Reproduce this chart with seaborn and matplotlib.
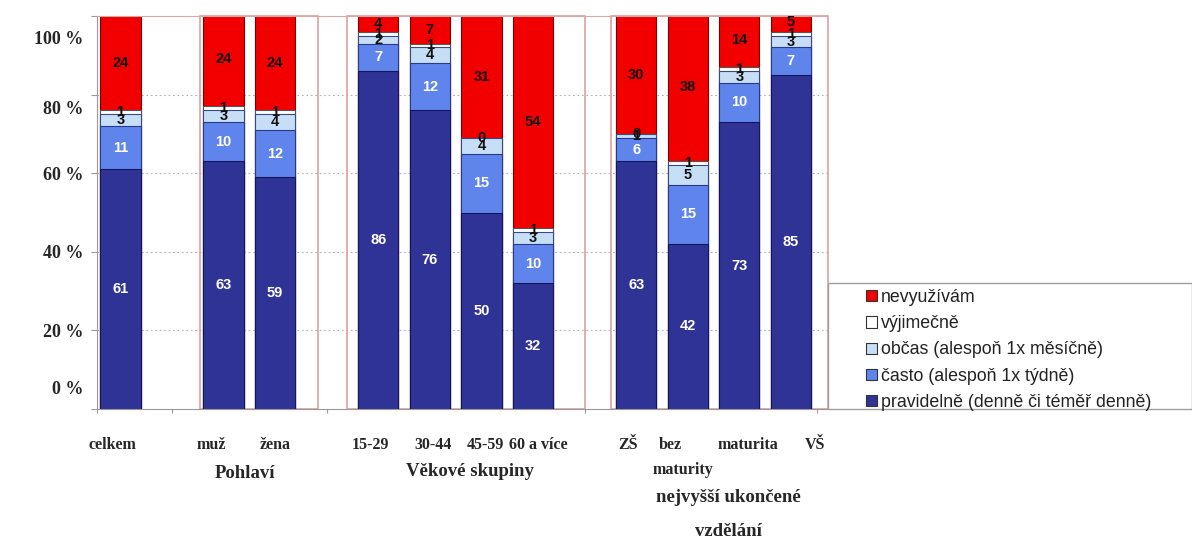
import numpy as np
import matplotlib
matplotlib.use('Agg')
import matplotlib.pyplot as plt
import matplotlib.transforms as mtransforms
from matplotlib.patches import Patch, Rectangle
import seaborn as sns

categories = ['celkem', 'muž', 'žena', '15-29', '30-44', '45-59', '60 a více',
              'ZŠ', 'bez', 'maturita', 'VŠ']
slots = [0, 2, 3, 5, 6, 7, 8, 10, 11, 12, 13]

pravidelne = [61, 63, 59, 86, 76, 50, 32, 63, 42, 73, 85]
casto = [11, 10, 12, 7, 12, 15, 10, 6, 15, 10, 7]
obcas = [3, 3, 4, 2, 4, 4, 3, 1, 5, 3, 3]
vyjimecne = [1, 1, 1, 1, 1, 0, 1, 0, 1, 1, 1]
nevyuzivam = [24, 24, 24, 4, 7, 31, 54, 30, 38, 14, 5]

series_names = ['pravidelně (denně či téměř denně)', 'často (alespoň 1x týdně)',
                'občas (alespoň 1x měsíčně)', 'výjimečně', 'nevyužívám']
series = [pravidelne, casto, obcas, vyjimecne, nevyuzivam]
colors = ['#2f3396', '#5f85ec', '#c6def6', '#ffffff', '#f20000']
edge_colors = ['#15155e', '#2a3a8a', '#3a4a80', '#555555', '#7a0000']
text_colors = ['white', 'white', '#111111', '#111111', '#111111']

group_titles = ['Pohlaví', 'Věkové skupiny', 'nejvyšší ukončené', 'vzdělání']
y_ticks = [0, 20, 40, 60, 80, 100]

sns.set_style('white')
fig = plt.figure(figsize=(11.92, 5.41), dpi=100)
ax = fig.add_axes([97 / 1192, 1 - 409 / 541, (828 - 97) / 1192, (409 - 16) / 541])

cum = np.cumsum(np.array(series), axis=0)
# stacked bars: draw from the tallest cumulative layer down
for i in range(len(series) - 1, -1, -1):
    sns.barplot(x=slots, y=cum[i], native_scale=True, width=0.78, color=colors[i],
                edgecolor=edge_colors[i], linewidth=0.8, errorbar=None, saturation=1, ax=ax)

# value labels
for i, vals in enumerate(series):
    bottoms = cum[i] - np.array(vals)
    for xs, b, v in zip(slots, bottoms, vals):
        ax.text(xs, b + v / 2, str(v), ha='center', va='center', fontsize=10.5,
                color=text_colors[i], family='Liberation Sans', fontweight='bold', zorder=5)

x0 = -0.455
x1 = 13.72
ax.set_xlim(x0, x1)
ax.set_ylim(0, 100)
ax.set_xlabel('')
ax.set_ylabel('')

# dotted grid
for yv in [20, 40, 60, 80]:
    ax.axhline(yv, color='#b0b0b0', linestyle=(0, (1.5, 2.5)), linewidth=0.8, zorder=0)

# group frames
for a, b in [(1.54, 3.83), (4.39, 9.0), (9.52, 13.72)]:
    ax.add_patch(Rectangle((a, 0), b - a, 100, fill=False, edgecolor='#e2a0a0',
                           linewidth=1.2, zorder=0.5, clip_on=False))

ax.spines['right'].set_visible(False)
ax.spines['top'].set_color('#d8a8a8')
ax.spines['left'].set_color('#999999')
ax.spines['bottom'].set_color('#999999')

ax.set_yticks(y_ticks)
ax.set_yticklabels([f'{t} %' for t in y_ticks], family='Liberation Serif',
                   fontweight='bold', fontsize=13)
ax.tick_params(axis='y', length=4, color='#999999', pad=6, left=True)
shifts = {100: -21, 80: -13, 0: 21}
for t, lab in zip(y_ticks, ax.get_yticklabels()):
    if t in shifts:
        lab.set_transform(lab.get_transform() +
                          mtransforms.ScaledTranslation(0, shifts[t] / 100, fig.dpi_scale_trans))
ax.set_xticks([-0.45, 1.0, 4.0, 9.0, 13.5])
ax.set_xticklabels([])
ax.tick_params(axis='x', length=3, color='#999999', bottom=True)

# category labels
label_px = [112, 211, 275, 370, 433, 485, 538, 628, 670, 748, 815]
for name, px in zip(categories, label_px):
    fig.text(px / 1192, 1 - 445 / 541, name, ha='center', va='center', family='Liberation Serif',
             fontweight='bold', fontsize=11.5)
fig.text(683 / 1192, 1 - 470 / 541, 'maturity', ha='center', va='center', family='Liberation Serif',
         fontweight='bold', fontsize=11.5)

title_pos = [(245, 474), (470, 472), (728, 498), (728, 532)]
for t, (px, py) in zip(group_titles, title_pos):
    fig.text(px / 1192, 1 - py / 541, t, ha='center', va='center', family='Liberation Serif',
             fontweight='bold', fontsize=13.5)

# legend box
fig.patches.append(Rectangle((828 / 1192, 1 - 409 / 541), 364 / 1192, 126 / 541, fill=False,
                             edgecolor='#a0a0a0', linewidth=1, transform=fig.transFigure))
handles = [Patch(facecolor=colors[i], edgecolor='#333333', linewidth=0.8, label=series_names[i])
           for i in range(len(series) - 1, -1, -1)]
leg = fig.legend(handles=handles, loc='upper left', bbox_to_anchor=(866 / 1192, 1 - 289 / 541),
                 frameon=False, prop={'family': 'Liberation Sans', 'size': 12.8},
                 handlelength=0.6, handleheight=0.6, handletextpad=0.25, labelspacing=0.52,
                 borderpad=0, borderaxespad=0)
for txt in leg.get_texts():
    txt.set_color('#222222')

fig.savefig('out.png', dpi=100)
